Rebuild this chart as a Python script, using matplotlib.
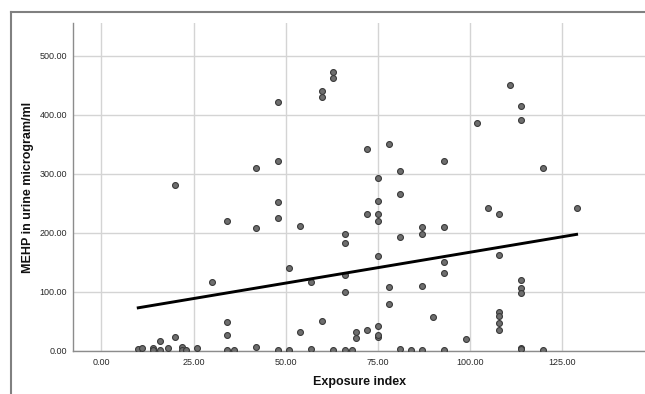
import matplotlib
matplotlib.use("Agg")
import matplotlib.pyplot as plt
from matplotlib.lines import Line2D
import numpy as np

# exposure index vs MEHP in urine
exposure = [10, 11, 14, 14, 16, 16, 18, 20, 22, 22, 23, 26,
            20, 30, 34, 34, 34, 34, 36, 42, 42, 42,
            48, 48, 48, 48, 48, 51, 51, 54, 54, 57, 57,
            60, 60, 60, 63, 63, 63, 66, 66, 66, 66, 66, 68, 69, 69,
            72, 72, 72, 75, 75, 75, 75, 75, 75, 75, 75, 78, 78, 78,
            81, 81, 81, 81, 84, 87, 87, 87, 87, 90,
            93, 93, 93, 93, 93, 99, 102, 105, 108, 108, 108, 108, 108, 108,
            111, 114, 114, 114, 114, 114, 114, 114, 120, 120, 129]
mehp = [3, 5, 5, 2, 17, 1, 5, 23, 6, 2, 2, 4,
        281, 116, 219, 49, 27, 2, 1, 310, 208, 6,
        421, 321, 252, 224, 2, 140, 2, 211, 32, 116, 3,
        440, 429, 51, 472, 462, 2, 198, 182, 128, 100, 1, 1, 32, 21,
        341, 231, 36, 293, 254, 231, 220, 160, 42, 24, 27, 350, 108, 80,
        305, 266, 193, 3, 2, 210, 198, 110, 2, 58,
        321, 210, 150, 132, 1, 20, 386, 241, 231, 162, 65, 59, 47, 36,
        450, 415, 390, 119, 106, 97, 4, 3, 310, 1, 241]

# linear fit shown in the chart
fit_intercept = 62.3
fit_slope = 1.045

x_ticks = [0, 25, 50, 75, 100, 125]
y_ticks = [0, 100, 200, 300, 400, 500]

plt.rcParams['font.family'] = ['Liberation Sans', 'DejaVu Sans']

fig = plt.figure(figsize=(6.45, 3.94), dpi=100)
ax = fig.add_axes([0.1127, 0.109, 0.888, 0.8325])

ax.set_xlim(-7.8, 147.7)
ax.set_ylim(-0.5, 555)
ax.set_xticks(x_ticks)
ax.set_yticks(y_ticks)
ax.set_xticklabels([f"{v:.2f}" for v in x_ticks])
ax.set_yticklabels([f"{v:.2f}" for v in y_ticks])
ax.tick_params(length=0, labelsize=6.5, colors='#2a2a2a')
ax.tick_params(axis='x', pad=5)
ax.tick_params(axis='y', pad=4)

ax.grid(True, color='#d4d4d4', linewidth=1.0)
ax.set_axisbelow(True)
for s in ['top', 'right']:
    ax.spines[s].set_visible(False)
for s in ['left', 'bottom']:
    ax.spines[s].set_color('#8c8c8c')
    ax.spines[s].set_linewidth(1.0)

ax.scatter(exposure, mehp, s=18, c='#6e6e6e', edgecolors='#3a3a3a',
           linewidths=0.8, zorder=3)

xs = np.array([min(exposure), max(exposure)])
ax.plot(xs, fit_intercept + fit_slope * xs, color='black', linewidth=2.1, zorder=4)

ax.set_xlabel('Exposure index', fontsize=9, fontweight='bold', color='#111111')
ax.set_ylabel('MEHP in urine microgram/ml', fontsize=9, fontweight='bold', color='#111111')
ax.xaxis.set_label_coords(0.5, -0.077)
ax.yaxis.set_label_coords(-0.068, 0.5)

# outer frame (top and left edges)
fig.add_artist(Line2D([11 / 645, 1], [1 - 12 / 394, 1 - 12 / 394],
                      transform=fig.transFigure, color='#808080', linewidth=1.5))
fig.add_artist(Line2D([11 / 645, 11 / 645], [0, 1 - 12 / 394],
                      transform=fig.transFigure, color='#808080', linewidth=1.5))

fig.savefig('out.png', dpi=100)
